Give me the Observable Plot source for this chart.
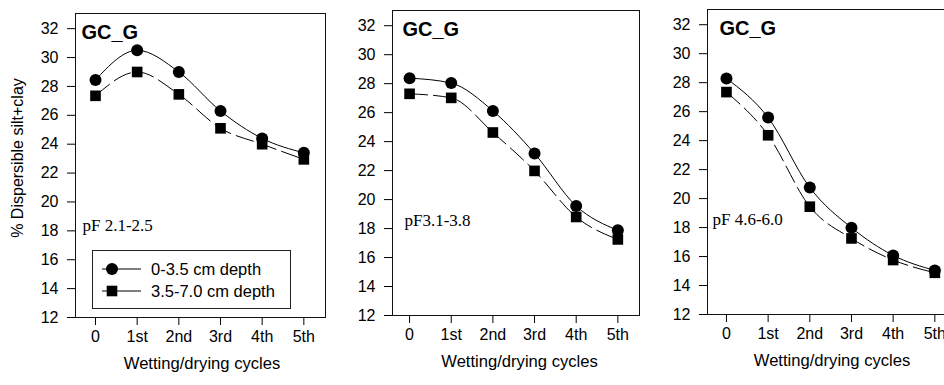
<!DOCTYPE html>
<html>
<head>
<meta charset="utf-8">
<script src="https://cdn.jsdelivr.net/npm/d3@7"></script>
<script src="https://cdn.jsdelivr.net/npm/@observablehq/plot@0.6"></script>
<style>
  html, body { margin: 0; padding: 0; background: #fff; }
  #root { position: relative; width: 944px; height: 385px; overflow: hidden; background: #fff; font-family: "Liberation Sans", Arial, sans-serif; }
  .panel { position: absolute; top: 0; }
  .panel svg { max-width: none !important; }
  #legend { position: absolute; left: 92px; top: 250px; width: 197px; height: 57px; border: 1px solid #222; background: #fff; z-index: 5; }
  #legend .row { position: absolute; left: 0; height: 20px; display: flex; align-items: center; }
  #legend svg { display: block; }
  #legend span { font-size: 16.5px; color: #000; white-space: nowrap; }
</style>
</head>
<body>
<div id="root"></div>
<script>
// ---- data ----
const cycles = ["0", "1st", "2nd", "3rd", "4th", "5th"];
const seriesNames = ["0-3.5 cm depth", "3.5-7.0 cm depth"];
const yTicks = [12, 14, 16, 18, 20, 22, 24, 26, 28, 30, 32];
const chartTitle = "GC_G";
const xTitle = "Wetting/drying cycles";
const yTitle = "% Dispersible silt+clay";
const pfLabels = ["pF 2.1-2.5", "pF3.1-3.8", "pF 4.6-6.0"];

const p1Shallow = [28.45, 30.5, 29.0, 26.3, 24.4, 23.4];
const p1Deep    = [27.35, 29.0, 27.45, 25.1, 24.0, 22.95];
const p2Shallow = [28.38, 28.04, 26.12, 23.18, 19.56, 17.88];
const p2Deep    = [27.3, 27.02, 24.63, 21.98, 18.8, 17.25];
const p3Shallow = [28.29, 25.59, 20.76, 17.99, 16.08, 15.04];
const p3Deep    = [27.35, 24.37, 19.44, 17.25, 15.76, 14.88];

// ---- layout ----
const layouts = [
  {left: 0,   marginLeft: 75, marginTop: 13, marginBottom: 68, xDomain: [-0.48, 5.52], width: 330, titleDx: 6,  pfDx: 7,  pfDy: 217, xTitleDx: 1.5, showY: true},
  {left: 330, marginLeft: 62, marginTop: 10, marginBottom: 70, xDomain: [-0.41, 5.52], width: 315, titleDx: 10, pfDx: 12, pfDy: 215, xTitleDx: 3.5, showY: false},
  {left: 640, marginLeft: 67, marginTop: 9,  marginBottom: 71, xDomain: [-0.455, 5.52], width: 321, titleDx: 12, pfDx: 5, pfDy: 215, xTitleDx: 0, showY: false}
];
const panelData = [[p1Shallow, p1Deep], [p2Shallow, p2Deep], [p3Shallow, p3Deep]];

const root = document.getElementById("root");

panelData.forEach(([shallow, deep], k) => {
  const L = layouts[k];
  const rowsShallow = cycles.map((c, i) => ({i, v: shallow[i], s: seriesNames[0]}));
  const rowsDeep = cycles.map((c, i) => ({i, v: deep[i], s: seriesNames[1]}));

  const marks = [
    Plot.frame({stroke: "#111", strokeWidth: 1}),
    Plot.axisX({ticks: cycles.map((c, i) => i), tickFormat: i => cycles[i], tickSize: 8, tickPadding: 5,
      label: null, fontSize: 16}),
    Plot.axisY({ticks: yTicks, tickSize: 8, tickPadding: 9, label: null, fontSize: 16}),
    Plot.line(rowsShallow, {x: "i", y: "v", curve: "monotone-x", stroke: "#000", strokeWidth: 1}),
    Plot.line(rowsDeep, {x: "i", y: "v", curve: "monotone-x", stroke: "#000", strokeWidth: 1, strokeDasharray: "18,6"}),
    Plot.dot(rowsShallow, {x: "i", y: "v", r: 6, symbol: "circle", fill: "#000", stroke: "none"}),
    Plot.dot(rowsDeep, {x: "i", y: "v", r: 6, symbol: "square", fill: "#000", stroke: "none"}),
    Plot.text([chartTitle], {frameAnchor: "top-left", dx: L.titleDx, dy: 11, lineAnchor: "top", textAnchor: "start",
      fontSize: 20, fontWeight: "bold", fill: "#000"}),
    Plot.text([pfLabels[k]], {frameAnchor: "top-left", dx: L.pfDx, dy: L.pfDy, lineAnchor: "bottom", textAnchor: "start",
      fontSize: 17, fontFamily: '"Liberation Serif", "Times New Roman", serif', fill: "#000"}),
    Plot.text([xTitle], {frameAnchor: "bottom", dx: L.xTitleDx, dy: 51, lineAnchor: "bottom", textAnchor: "middle",
      fontSize: 16.6, fill: "#000"})
  ];
  if (L.showY) {
    marks.push(Plot.text([yTitle], {frameAnchor: "left", rotate: -90, dx: -58, dy: -7.5, lineAnchor: "middle", textAnchor: "middle",
      fontSize: 16, fill: "#000"}));
  }

  const plot = Plot.plot({
    width: L.width,
    height: 385,
    marginLeft: L.marginLeft,
    marginRight: L.width - L.marginLeft - Math.round((L.xDomain[1] - L.xDomain[0]) * 41.7),
    marginTop: L.marginTop,
    marginBottom: L.marginBottom,
    style: {fontFamily: '"Liberation Sans", Arial, sans-serif', fontSize: "16px", color: "#000", background: "transparent", overflow: "visible", maxWidth: "none"},
    x: {type: "linear", domain: L.xDomain},
    y: {domain: [12, 33.05]},
    marks
  });
  const wrap = document.createElement("div");
  wrap.className = "panel";
  wrap.style.left = L.left + "px";
  wrap.style.width = L.width + "px";
  wrap.appendChild(plot);
  root.appendChild(wrap);
});

// ---- legend (HTML) ----
const legend = document.createElement("div");
legend.id = "legend";
seriesNames.forEach((name, j) => {
  const row = document.createElement("div");
  row.className = "row";
  row.style.top = (j === 0 ? 8 : 30) + "px";
  const sym = j === 0
    ? '<circle cx="19" cy="10" r="6" fill="#000"/>'
    : '<rect x="13.7" y="4.7" width="10.6" height="10.6" fill="#000"/>';
  row.innerHTML = '<svg width="58" height="20"><line x1="9" x2="48" y1="10" y2="10" stroke="#000" stroke-width="1"/>' + sym + '</svg>';
  const span = document.createElement("span");
  span.textContent = name;
  row.appendChild(span);
  legend.appendChild(row);
});
root.appendChild(legend);
</script>
</body>
</html>
